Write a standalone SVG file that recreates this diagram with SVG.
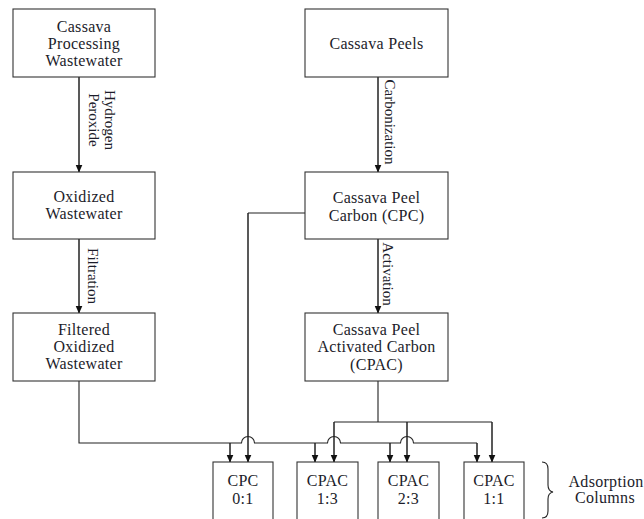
<svg xmlns="http://www.w3.org/2000/svg" width="644" height="519" viewBox="0 0 644 519">
<style>
.box{fill:#fff;stroke:#333;stroke-width:1.1}
.t{font-family:"Liberation Serif","Times New Roman",serif;font-size:16px;fill:#1c1c2a;text-anchor:middle;letter-spacing:0.3px}
.v{font-family:"Liberation Serif","Times New Roman",serif;font-size:15px;fill:#1c1c2a;text-anchor:middle;dominant-baseline:central}
.ln{fill:none;stroke:#222;stroke-width:1.1}
.ar{fill:none;stroke:#222;stroke-width:1.5}
</style>
<defs>
<marker id="ah" markerUnits="userSpaceOnUse" markerWidth="8" markerHeight="8" refX="7.5" refY="3.5" orient="auto">
<path d="M0,0 L8,3.5 L0,7 z" fill="#111"/>
</marker>
</defs>
<rect width="644" height="519" fill="#fff"/>
<g id="connectors">
<path class="ar" d="M79,77 V172" marker-end="url(#ah)"/>
<path class="ar" d="M79,239 V313" marker-end="url(#ah)"/>
<path class="ar" d="M378,77 V172" marker-end="url(#ah)"/>
<path class="ar" d="M378,239 V313" marker-end="url(#ah)"/>
<path class="ln" d="M305,213 H248"/>
<path class="ar" d="M248,213 V462" marker-end="url(#ah)"/>
<path class="ln" d="M79,381 V443 H241.5 A6.5,6.5 0 0 1 254.5,443 H327.5 A6.5,6.5 0 0 1 340.5,443 H400.5 A6.5,6.5 0 0 1 413.5,443 H477"/>
<path class="ar" d="M477,443 V462" marker-end="url(#ah)"/>
<path class="ar" d="M230,443 V462" marker-end="url(#ah)"/>
<path class="ar" d="M315,443 V462" marker-end="url(#ah)"/>
<path class="ar" d="M390,443 V462" marker-end="url(#ah)"/>
<path class="ln" d="M378,381 V422 M334,422 H492"/>
<path class="ar" d="M334,422 V462" marker-end="url(#ah)"/>
<path class="ar" d="M407,422 V462" marker-end="url(#ah)"/>
<path class="ar" d="M492,422 V462" marker-end="url(#ah)"/>
<g id="labels">
<text class="v" transform="translate(110,120) rotate(90)">Hydrogen</text>
<text class="v" transform="translate(94,120) rotate(90)">Peroxide</text>
<text class="v" transform="translate(93,276) rotate(90)">Filtration</text>
<text class="v" transform="translate(390,122) rotate(90)">Carbonization</text>
<text class="v" transform="translate(388,274) rotate(90)">Activation</text>
</g>
</g>
<g id="n-cpw">
<rect class="box" x="13" y="9" width="142" height="68"/>
<text class="t" x="84" y="32">Cassava</text>
<text class="t" x="84" y="49">Processing</text>
<text class="t" x="84" y="66">Wastewater</text>
</g>
<g id="n-ow">
<rect class="box" x="13" y="172" width="142" height="67"/>
<text class="t" x="84" y="202">Oxidized</text>
<text class="t" x="84" y="219">Wastewater</text>
</g>
<g id="n-fow">
<rect class="box" x="13" y="313" width="142" height="68"/>
<text class="t" x="84" y="335">Filtered</text>
<text class="t" x="84" y="352">Oxidized</text>
<text class="t" x="84" y="369">Wastewater</text>
</g>
<g id="n-cp">
<rect class="box" x="305" y="9" width="143" height="68"/>
<text class="t" x="376.5" y="49">Cassava Peels</text>
</g>
<g id="n-cpc">
<rect class="box" x="305" y="172" width="143" height="67"/>
<text class="t" x="376.5" y="203">Cassava Peel</text>
<text class="t" x="376.5" y="221">Carbon (CPC)</text>
</g>
<g id="n-cpac">
<rect class="box" x="305" y="313" width="143" height="68"/>
<text class="t" x="376.5" y="335">Cassava Peel</text>
<text class="t" x="376.5" y="352">Activated Carbon</text>
<text class="t" x="376.5" y="370">(CPAC)</text>
</g>
<g id="n-c01">
<rect class="box" x="213" y="462" width="60" height="65"/>
<text class="t" x="243" y="486">CPC</text>
<text class="t" x="243" y="504">0:1</text>
</g>
<g id="n-c13">
<rect class="box" x="297" y="462" width="61" height="65"/>
<text class="t" x="327.5" y="486">CPAC</text>
<text class="t" x="327.5" y="504">1:3</text>
</g>
<g id="n-c23">
<rect class="box" x="378" y="462" width="61" height="65"/>
<text class="t" x="408.5" y="486">CPAC</text>
<text class="t" x="408.5" y="504">2:3</text>
</g>
<g id="n-c11">
<rect class="box" x="464" y="462" width="60" height="65"/>
<text class="t" x="494" y="486">CPAC</text>
<text class="t" x="494" y="504">1:1</text>
</g>
<g id="brace">
<path class="ln" d="M542,462 Q548,462 548,469 V485 Q548,491 553,492 Q548,493 548,499 V511 Q548,518 542,518"/>
<text class="t" x="606" y="487">Adsorption</text>
<text class="t" x="605" y="503">Columns</text>
</g>
</svg>
